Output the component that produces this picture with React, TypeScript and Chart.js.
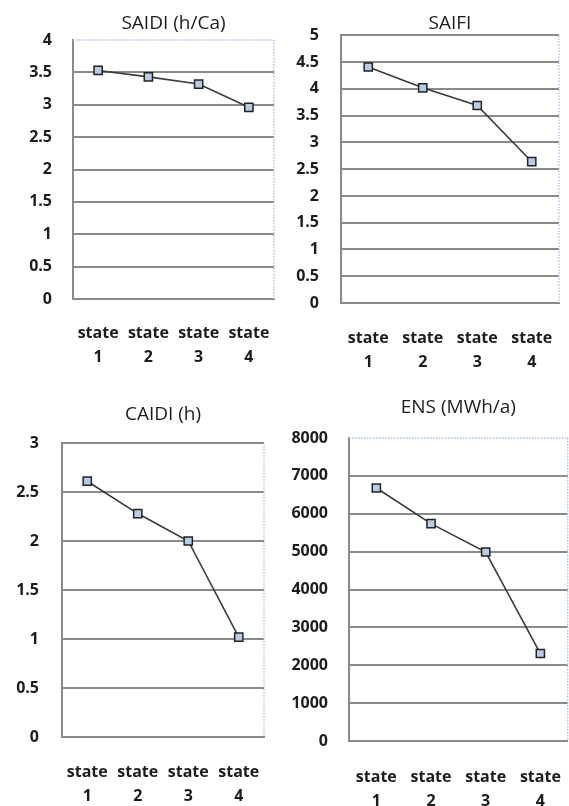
import { useEffect, useRef } from 'react';
import { Chart, registerables } from 'chart.js';

Chart.register(...registerables);

// category labels, two lines each
const stateLabels = [
  ['state', '1'],
  ['state', '2'],
  ['state', '3'],
  ['state', '4'],
];

// values
const saidiValues = [3.53, 3.43, 3.32, 2.96];
const saifiValues = [4.41, 4.02, 3.69, 2.64];
const caidiValues = [2.61, 2.28, 2.0, 1.02];
const ensValues = [6680, 5740, 4990, 2310];

// y axis tick ranges
const saidiTicks = { min: 0, max: 4, step: 0.5 };
const saifiTicks = { min: 0, max: 5, step: 0.5 };
const caidiTicks = { min: 0, max: 3, step: 0.5 };
const ensTicks = { min: 0, max: 8000, step: 1000 };

const FONT = "'Open Sans', 'DejaVu Sans', sans-serif";
const TEXT = '#1c1c1c';
const GRID = '#8a8a8a';

// dotted blue edge Excel leaves on the plot area
const plotFrame = {
  id: 'plotFrame',
  beforeDatasetsDraw(chart: any, _args: any, opts: any) {
    const { ctx, chartArea } = chart;
    const { left, right, top, bottom } = chartArea;
    ctx.save();
    ctx.strokeStyle = '#a9bfdf';
    ctx.lineWidth = 1.3;
    ctx.setLineDash([1.5, 1.5]);
    ctx.beginPath();
    ctx.moveTo(right, top);
    ctx.lineTo(right, bottom);
    if (opts.dottedTop) {
      ctx.moveTo(left, top);
      ctx.lineTo(right, top);
    }
    ctx.stroke();
    ctx.restore();
  },
};

interface Box {
  left: number;
  top: number;
  width: number;
  height: number;
}

interface MiniChartProps {
  title: string;
  values: number[];
  ticks: { min: number; max: number; step: number };
  box: Box;
  yWidth: number;
  yPad: number;
  xHeight: number;
  xPad: number;
  rightPad: number;
  titlePad: { top: number; bottom: number };
  dottedTop?: boolean;
}

function MiniChart(props: MiniChartProps) {
  const canvasRef = useRef<HTMLCanvasElement>(null);
  const chartRef = useRef<Chart | null>(null);

  useEffect(() => {
    if (!canvasRef.current) return;
    const { title, values, ticks, yWidth, yPad, xHeight, xPad, rightPad, titlePad, dottedTop } = props;

    if (chartRef.current) chartRef.current.destroy();

    chartRef.current = new Chart(canvasRef.current, {
      type: 'line',
      data: {
        labels: stateLabels,
        datasets: [
          {
            data: values,
            borderColor: '#3a3a3a',
            borderWidth: 1.6,
            pointStyle: 'rect',
            pointRadius: 5.8,
            pointBackgroundColor: '#b8cce4',
            pointBorderColor: '#222222',
            pointBorderWidth: 1.5,
            tension: 0,
          },
        ],
      },
      options: {
        responsive: true,
        maintainAspectRatio: false,
        animation: false,
        layout: { padding: { left: 0, right: rightPad, top: 0, bottom: 0 } },
        plugins: {
          legend: { display: false },
          tooltip: { enabled: false },
          title: {
            display: true,
            text: title,
            fullSize: false,
            color: TEXT,
            font: { family: FONT, size: 19, weight: 'normal' },
            padding: titlePad,
          },
          plotFrame: { dottedTop: !!dottedTop },
        } as any,
        scales: {
          x: {
            offset: true,
            grid: { display: false, drawTicks: false },
            border: { display: true, color: GRID, width: 2 },
            ticks: {
              color: TEXT,
              padding: xPad,
              autoSkip: false,
              maxRotation: 0,
              font: { family: FONT, size: 16, weight: 'bold', lineHeight: 1.5 },
            },
            afterFit: (scale: any) => {
              scale.height = xHeight;
              // let the plot run to the layout padding, as in the picture
              scale.paddingLeft = 0;
              scale.paddingRight = 0;
            },
          },
          y: {
            min: ticks.min,
            max: ticks.max,
            grid: {
              drawTicks: false,
              lineWidth: 2,
              color: (c: any) =>
                dottedTop && c.tick && c.tick.value === ticks.max ? 'rgba(0,0,0,0)' : GRID,
            },
            border: { display: true, color: GRID, width: 2 },
            ticks: {
              stepSize: ticks.step,
              color: TEXT,
              padding: yPad,
              font: { family: FONT, size: 16, weight: 'bold' },
              callback: (v: any) => String(v),
            },
            afterFit: (scale: any) => {
              scale.width = yWidth;
            },
          },
        },
      },
      plugins: [plotFrame],
    });

    return () => {
      if (chartRef.current) {
        chartRef.current.destroy();
        chartRef.current = null;
      }
    };
  }, []);

  const { box } = props;
  return (
    <div
      style={{
        position: 'absolute',
        left: box.left,
        top: box.top,
        width: box.width,
        height: box.height,
      }}
    >
      <canvas ref={canvasRef} role="img" aria-label={props.title} />
    </div>
  );
}

export default function App() {
  return (
    <div
      style={{
        position: 'fixed',
        left: 0,
        top: 0,
        width: 569,
        height: 806,
        overflow: 'hidden',
        background: '#ffffff',
      }}
    >
      <MiniChart
        title="SAIDI (h/Ca)"
        values={saidiValues}
        ticks={saidiTicks}
        box={{ left: 0, top: 0, width: 285, height: 375 }}
        yWidth={73}
        yPad={21}
        xHeight={76}
        xPad={22}
        rightPad={11}
        titlePad={{ top: 12.3, bottom: 4.9 }}
        dottedTop
      />
      <MiniChart
        title="SAIFI"
        values={saifiValues}
        ticks={saifiTicks}
        box={{ left: 285, top: 0, width: 284, height: 380 }}
        yWidth={56}
        yPad={22}
        xHeight={77}
        xPad={23}
        rightPad={10}
        titlePad={{ top: 12.6, bottom: 0 }}
      />
      <MiniChart
        title="CAIDI (h)"
        values={caidiValues}
        ticks={caidiTicks}
        box={{ left: 0, top: 385, width: 285, height: 421 }}
        yWidth={62}
        yPad={23}
        xHeight={69}
        xPad={23}
        rightPad={21}
        titlePad={{ top: 18.6, bottom: 16.6 }}
      />
      <MiniChart
        title="ENS (MWh/a)"
        values={ensValues}
        ticks={ensTicks}
        box={{ left: 285, top: 385, width: 290, height: 421 }}
        yWidth={64}
        yPad={21}
        xHeight={65}
        xPad={24}
        rightPad={4}
        titlePad={{ top: 11.6, bottom: 18.6 }}
        dottedTop
      />
    </div>
  );
}
